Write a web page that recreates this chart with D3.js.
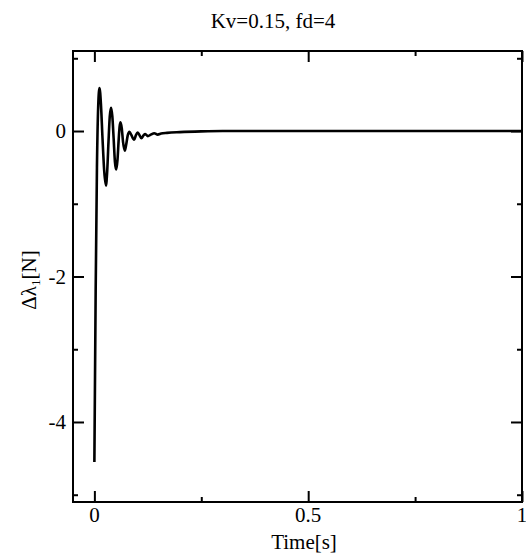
<!DOCTYPE html>
<html>
<head>
<meta charset="utf-8">
<script src="https://cdn.jsdelivr.net/npm/d3@7"></script>
<style>
  html, body { margin: 0; padding: 0; background: #fff; }
  svg { display: block; }
  text { font-family: "Liberation Serif", "Times New Roman", serif; fill: #000; }
</style>
</head>
<body>
<svg id="chart" width="526" height="555"></svg>
<script>
// ---- data ----
const timeValues = [0, 0.003, 0.006, 0.009, 0.012, 0.0155, 0.019, 0.023, 0.027, 0.030, 0.033, 0.036, 0.039, 0.042, 0.045, 0.048, 0.051, 0.054, 0.057, 0.059, 0.061, 0.064, 0.067, 0.071, 0.074, 0.078, 0.082, 0.086, 0.093, 0.097, 0.101, 0.105, 0.110, 0.115, 0.119, 0.125, 0.132, 0.140, 0.148, 0.156, 0.17, 0.2, 0.25, 0.3, 1.0];
const forceValues = [-4.55, -2.2, -0.5, 0.35, 0.59, 0.35, -0.1, -0.55, -0.75, -0.55, -0.15, 0.2, 0.32, 0.2, -0.1, -0.42, -0.53, -0.4, -0.1, 0.06, 0.12, 0.04, -0.15, -0.27, -0.2, -0.06, -0.01, -0.05, -0.12, -0.06, -0.02, -0.05, -0.10, -0.06, -0.04, -0.07, -0.05, -0.03, -0.05, -0.035, -0.025, -0.015, -0.005, 0, 0];
const xMajorTicks = [0, 0.5, 1];
const xMinorTicks = [0.25, 0.75];
const yMajorTicks = [0, -2, -4];
const yMinorTicks = [1, -1, -3, -5];
const titleText = "Kv=0.15, fd=4";
const xLabelText = "Time[s]";

// ---- layout ----
const svg = d3.select("#chart");
const mLeft = 73, mRight = 522, mTop = 51, mBottom = 502;
const x = d3.scaleLinear().domain([-0.05, 1]).range([mLeft, mRight]);
const y = d3.scaleLinear().domain([-5.1, 1.1]).range([mBottom, mTop]);

const data = timeValues.map((t, i) => ({ t, v: forceValues[i] }));

// curve
const line = d3.line().x(d => x(d.t)).y(d => y(d.v)).curve(d3.curveMonotoneX);
svg.append("path").datum(data)
  .attr("d", line)
  .attr("fill", "none").attr("stroke", "#000").attr("stroke-width", 2.6)
  .attr("stroke-linejoin", "round");

// frame
svg.append("rect").attr("x", mLeft).attr("y", mTop)
  .attr("width", mRight - mLeft).attr("height", mBottom - mTop)
  .attr("fill", "none").attr("stroke", "#000").attr("stroke-width", 2);

const majorLen = 11, minorLen = 5;
function axisTicks(axisGen, transform, ticks, len) {
  const g = svg.append("g").attr("transform", transform)
    .call(axisGen.tickValues(ticks).tickSizeInner(len).tickSizeOuter(0).tickFormat(""));
  g.select(".domain").remove();
  g.selectAll(".tick line").attr("stroke", "#000").attr("stroke-width", 2);
  return g;
}
// bottom: ticks inward (upwards)
axisTicks(d3.axisTop(x), `translate(0,${mBottom})`, xMajorTicks, majorLen);
axisTicks(d3.axisTop(x), `translate(0,${mBottom})`, xMinorTicks, minorLen);
// top: ticks inward (downwards)
axisTicks(d3.axisBottom(x), `translate(0,${mTop})`, xMajorTicks, majorLen);
axisTicks(d3.axisBottom(x), `translate(0,${mTop})`, xMinorTicks, minorLen);
// left: ticks inward
axisTicks(d3.axisRight(y), `translate(${mLeft},0)`, yMajorTicks, majorLen);
axisTicks(d3.axisRight(y), `translate(${mLeft},0)`, yMinorTicks, minorLen);
// right: ticks inward
axisTicks(d3.axisLeft(y), `translate(${mRight},0)`, yMajorTicks, majorLen);
axisTicks(d3.axisLeft(y), `translate(${mRight},0)`, yMinorTicks, minorLen);

// tick labels
svg.append("g").selectAll("text").data(xMajorTicks).join("text")
  .attr("x", d => x(d)).attr("y", 522)
  .attr("text-anchor", "middle").attr("font-size", 21)
  .text(d => String(d));
svg.append("g").selectAll("text").data(yMajorTicks).join("text")
  .attr("x", 66).attr("y", d => y(d)).attr("dy", "0.35em")
  .attr("text-anchor", "end").attr("font-size", 21)
  .text(d => String(d));

// title
svg.append("text").attr("x", 273).attr("y", 28)
  .attr("text-anchor", "middle").attr("font-size", 21).text(titleText);

// x label
svg.append("text").attr("x", 304).attr("y", 549)
  .attr("text-anchor", "middle").attr("font-size", 21).text(xLabelText);

// y label
const yl = svg.append("text")
  .attr("transform", "translate(36,280) rotate(-90)")
  .attr("text-anchor", "middle").attr("font-size", 21);
yl.append("tspan").text("\u0394\u03bb");
yl.append("tspan").attr("font-size", 13).attr("dy", 4).text("1");
yl.append("tspan").attr("dy", -4).text("[N]");
</script>
</body>
</html>
